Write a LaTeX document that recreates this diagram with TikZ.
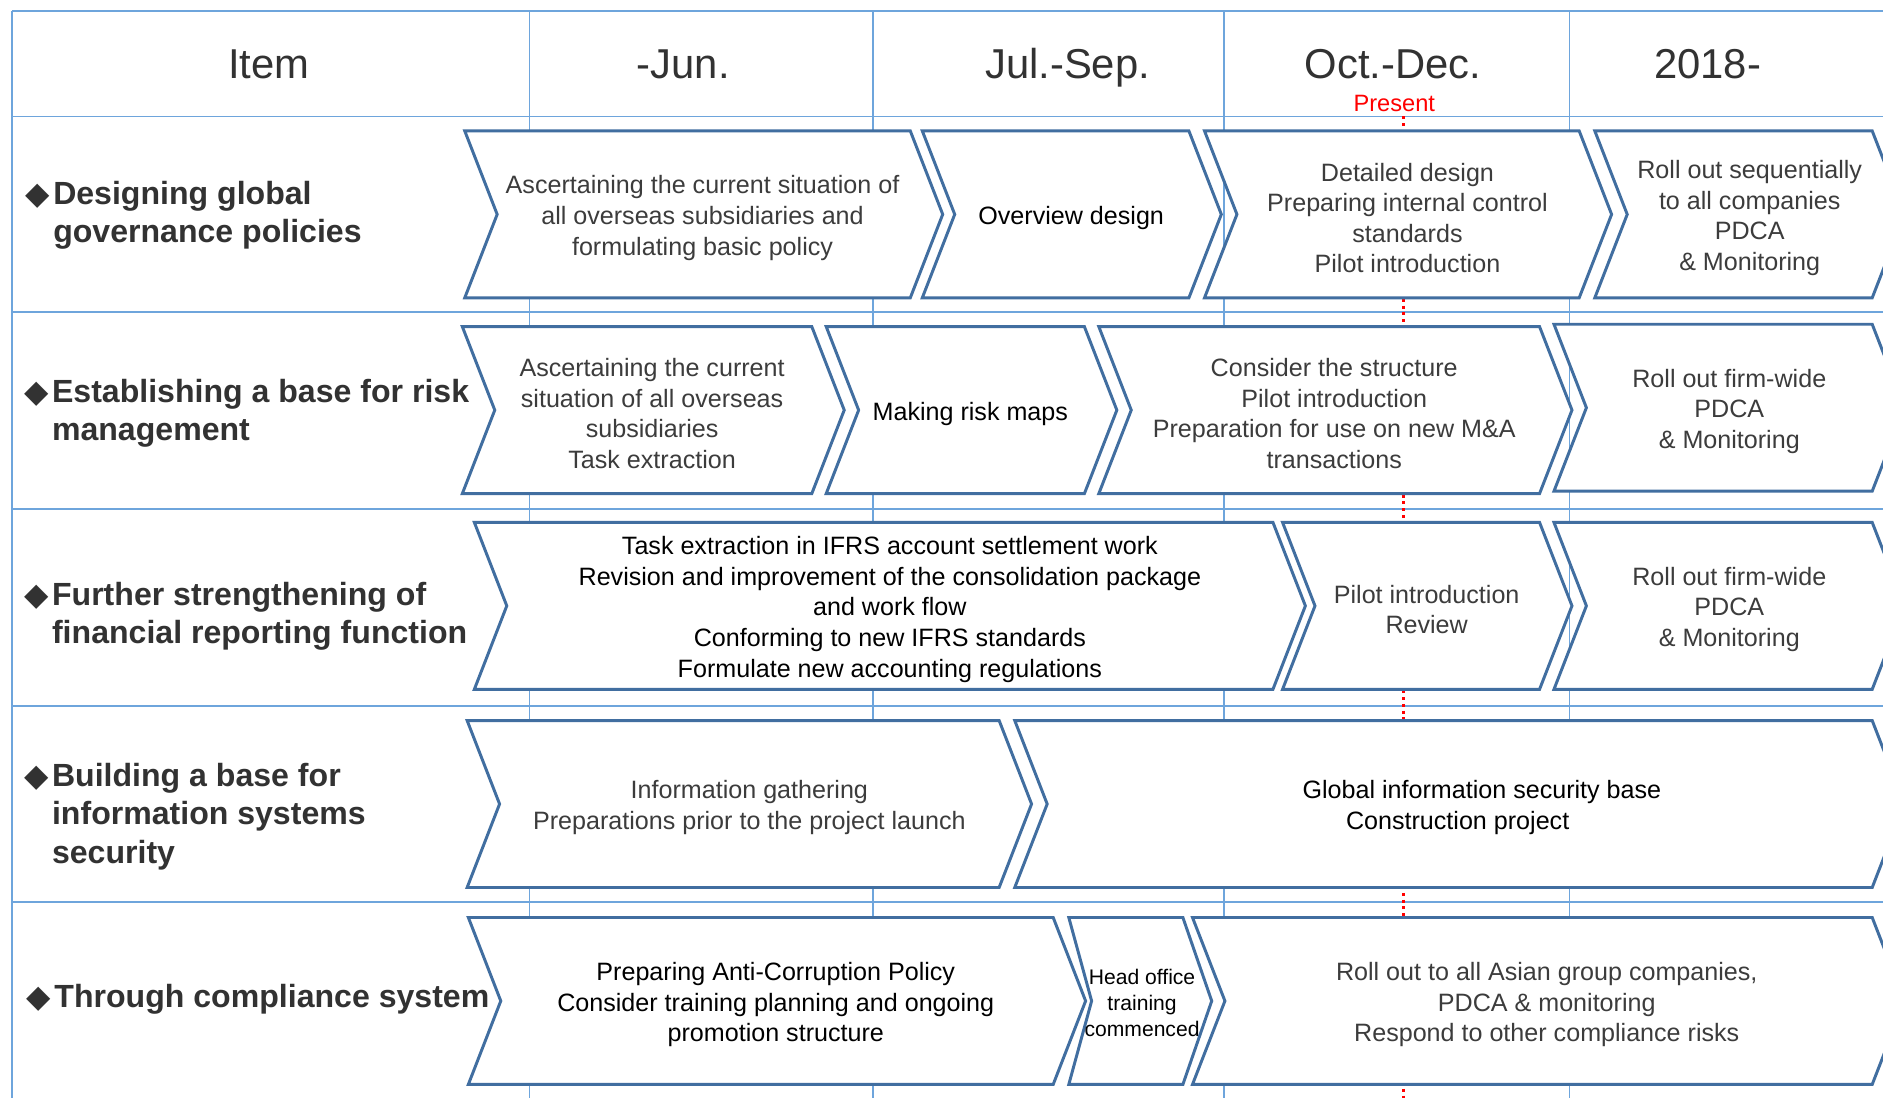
\documentclass[tikz,border=0pt]{standalone}
\usepackage{fontspec}
\setmainfont{Liberation Sans}
\newfontfamily\dejavu{DejaVu Sans}
\definecolor{gridblue}{RGB}{110,165,220}
\definecolor{chevblue}{RGB}{65,110,160}
\definecolor{txtgray}{RGB}{60,60,60}
\definecolor{lblgray}{RGB}{50,50,50}
\newcommand\dia{\llap{{\dejavu\fontsize{15}{15}\selectfont ◆}\hspace{1.5pt}}}
% #1 node options, #2 name, #3 left x, #4 right x, #5 top y, #6 bottom y, #7 text x, #8 text
\newcommand\chv[8][]{%
  \draw[chev] (#3,#5) -- (#4,#5) -- ({#4+27},{(#5+#6)/2}) -- (#4,#6) -- (#3,#6) -- ({#3+27},{(#5+#6)/2}) -- cycle;
  \node[boxtxt,#1] (#2) at (#7,{(#5+#6)/2+3}) {#8};
}
\begin{document}
\begin{tikzpicture}[x={(0.02cm,0)},y={(0,-0.02cm)},
  gridline/.style={draw=gridblue,line width=0.8pt},
  chev/.style={draw=chevblue,line width=1.4pt,fill=white,line join=miter},
  boxtxt/.style={align=center,inner sep=0pt,font=\fontsize{11.9}{14.5}\selectfont,text=txtgray},
  blk/.style={text=black},
  hdr/.style={anchor=base,font=\fontsize{19.8}{24}\selectfont,text=lblgray,inner sep=0pt},
  lbl/.style={anchor=west,align=left,inner sep=0pt,font=\bfseries\fontsize{15.2}{18.1}\selectfont,text=lblgray},
  present/.style={draw=red,dash pattern=on 1.4pt off 1.8pt,line width=1.5pt}
]
\fill[white] (0,0) rectangle (1568,914);
\useasboundingbox (0,0) rectangle (1568,914);
\clip (0,0) rectangle (1568,914);

% grid
\draw[gridline] (10,9) -- (1568,9);
\foreach \yy in {97,260,424,588,751} {\draw[gridline] (10,\yy) -- (1568,\yy);}
\foreach \xx in {10,441,727,1019,1307} {\draw[gridline] (\xx,9) -- (\xx,914);}

% header
\node[hdr] (hitem) at (224,65) {Item};
\node[hdr] (hjun) at (569,65) {-Jun.};
\node[hdr] (hsep) at (889,65) {Jul.-Sep.};
\node[hdr] (hdec) at (1160,65) {Oct.-Dec.};
\node[hdr] (h2018) at (1422,65) {2018-};
\node[inner sep=0pt,text=red,font=\fontsize{11.2}{13}\selectfont] (pres) at (1161,86) {Present};

% present line
\coordinate (p0) at (1169,97);
\coordinate (p1) at (1169,914);
\draw[present] (p0) -- (p1);

% left labels
\node[lbl] (l1) at (44,179) {\dia Designing global\\governance policies};
\node[lbl] (l2) at (43,344) {\dia Establishing a base for risk\\management};
\node[lbl] (l3) at (43,513) {\dia Further strengthening of\\financial reporting function};
\node[lbl] (l4) at (43,680) {\dia Building a base for\\information systems\\security};
\node[lbl] (l5) at (45,832) {\dia Through compliance system};

% row 1
\chv{r1a}{387}{758}{109}{248}{585}{Ascertaining the current situation of\\all overseas subsidiaries and\\formulating basic policy}
\chv[blk]{r1b}{768}{990}{109}{248}{892}{Overview design}
\chv{r1c}{1003}{1315}{109}{248}{1172}{Detailed design\\Preparing internal control\\standards\\Pilot introduction}
\chv{r1d}{1328}{1559}{109}{248}{1457}{Roll out sequentially\\to all companies\\PDCA\\\& Monitoring}

% row 2
\chv{r2a}{385}{676}{272}{411}{543}{Ascertaining the current\\situation of all overseas\\subsidiaries\\Task extraction}
\chv[blk]{r2b}{688}{903}{272}{411}{808}{Making risk maps}
\chv{r2c}{915}{1282}{272}{411}{1111}{Consider the structure\\Pilot introduction\\Preparation for use on new M\&A\\transactions}
\chv{r2d}{1294}{1559}{270}{409}{1440}{Roll out firm-wide\\PDCA\\\& Monitoring}

% row 3
\chv[blk]{r3a}{395}{1060}{435}{574}{741}{Task extraction in IFRS account settlement work\\Revision and improvement of the consolidation package\\and work flow\\Conforming to new IFRS standards\\Formulate new accounting regulations}
\chv{r3b}{1068}{1282}{435}{574}{1188}{Pilot introduction\\Review}
\chv{r3c}{1294}{1559}{435}{574}{1440}{Roll out firm-wide\\PDCA\\\& Monitoring}

% row 4
\chv{r4a}{389}{832}{600}{739}{624}{Information gathering\\Preparations prior to the project launch}
\chv[blk]{r4b}{845}{1559}{600}{739}{1234}{Global information security base\\Construction project\hspace*{23pt}}

% row 5
\chv[blk]{r5a}{390}{877}{764}{903}{646}{Preparing Anti-Corruption Policy\\Consider training planning and ongoing\\promotion structure}
\draw[chev] (890,764) -- (985,764) -- (1009,833.5) -- (985,903) -- (890,903) -- (909,833.5) -- cycle;
\node[boxtxt,blk,font=\fontsize{10}{12.2}\selectfont] (r5b) at (951,835) {Head office\\training\\commenced};
\chv{r5c}{993}{1559}{764}{903}{1288}{Roll out to all Asian group companies,\\PDCA \& monitoring\\Respond to other compliance risks}

\end{tikzpicture}
\end{document}
